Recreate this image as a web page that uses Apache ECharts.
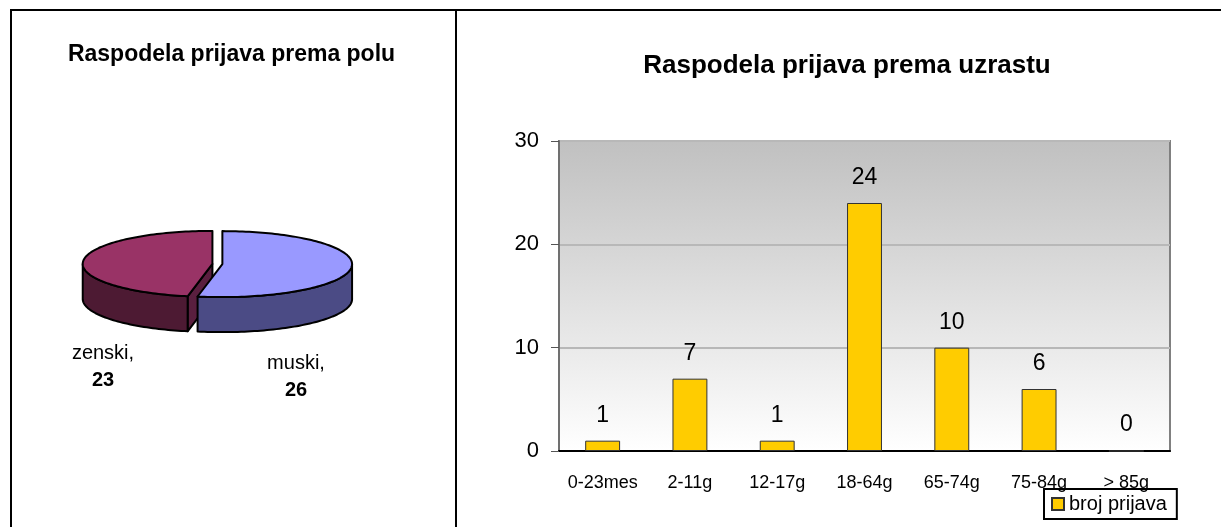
<!DOCTYPE html>
<html><head><meta charset="utf-8">
<script src="https://cdn.jsdelivr.net/npm/echarts@6/dist/echarts.min.js"></script>
<style>html,body{margin:0;padding:0;background:#fff}#c{width:1221px;height:527px}</style>
</head><body><div id="c"></div>
<script>
// ---- data ----
const pieTitle = 'Raspodela prijava prema polu';
const pieNames = ['zenski', 'muski'];
const pieValues = [23, 26];
const barTitle = 'Raspodela prijava prema uzrastu';
const ageCategories = ['0-23mes', '2-11g', '12-17g', '18-64g', '65-74g', '75-84g', '> 85g'];
const ageValues = [1, 7, 1, 24, 10, 6, 0];
const seriesName = 'broj prijava';
const yMin = 0, yMax = 30, yInterval = 10;

// ---- layout / style ----
const FONT = 'Liberation Sans, Arial, sans-serif';
const PIE = {cx: 217.4, cy: 264, a: 129.7, b: 33, depth: 35, explode: 5};
const pieColors = [
  {top: '#993366', side: '#4d1a33', cut: '#5a1f3f'},
  {top: '#9999ff', side: '#4b4b85', cut: '#40407a'}
];
const pieLabelPos = [[103, 353], [296, 363]];
const pieTotal = pieValues.reduce((s, v) => s + v, 0);

function renderPie(params, api) {
  const i = params.dataIndex;
  const val = api.value(0);
  let before = 0;
  for (let k = pieValues.length - 1; k > i; k--) before += pieValues[k];
  const t1 = before / pieTotal * 2 * Math.PI;
  const t2 = (before + val) / pieTotal * 2 * Math.PI;
  const mid = (t1 + t2) / 2;
  const cx = PIE.cx + PIE.explode * Math.sin(mid);
  const cy = PIE.cy - PIE.explode * Math.cos(mid) * PIE.b / PIE.a;
  const D = PIE.depth;
  const pt = (t, dz) => [cx + PIE.a * Math.sin(t), cy - PIE.b * Math.cos(t) + (dz || 0)];
  const arc = (s, e, dz) => {
    const n = Math.max(2, Math.ceil((e - s) / (Math.PI / 120)));
    const out = [];
    for (let j = 0; j <= n; j++) out.push(pt(s + (e - s) * j / n, dz));
    return out;
  };
  const col = pieColors[i];
  const stroke = {stroke: '#000', lineWidth: 2, lineJoin: 'round'};
  const children = [];
  const base = i * 10;
  if (Math.sin(t1) < -1e-6) {
    children.push({type: 'polygon', z2: base + 1, shape: {points: [[cx, cy], pt(t1), pt(t1, D), [cx, cy + D]]},
      style: Object.assign({fill: col.cut}, stroke)});
  }
  if (Math.sin(t2) > 1e-6) {
    children.push({type: 'polygon', z2: base + 1, shape: {points: [[cx, cy], pt(t2), pt(t2, D), [cx, cy + D]]},
      style: Object.assign({fill: col.cut}, stroke)});
  }
  const s = Math.max(t1, Math.PI / 2), e = Math.min(t2, 3 * Math.PI / 2);
  if (e > s) {
    children.push({type: 'polygon', z2: base + 2, shape: {points: arc(s, e, 0).concat(arc(s, e, D).reverse())},
      style: Object.assign({fill: col.side}, stroke)});
  }
  children.push({type: 'polygon', z2: base + 3, shape: {points: [[cx, cy]].concat(arc(t1, t2, 0))},
    style: Object.assign({fill: col.top}, stroke)});
  const lp = pieLabelPos[i];
  children.push({type: 'text', z2: base + 4, x: lp[0], y: lp[1],
    style: {text: pieNames[i] + ',', fill: '#000', font: '20px ' + FONT, align: 'center', verticalAlign: 'middle'}});
  children.push({type: 'text', z2: base + 4, x: lp[0], y: lp[1] + 27,
    style: {text: String(val), fill: '#000', font: 'bold 20px ' + FONT, align: 'center', verticalAlign: 'middle'}});
  return {type: 'group', children: children};
}

const chart = echarts.init(document.getElementById('c'), null, {renderer: 'canvas'});
chart.setOption({
  animation: false,
  backgroundColor: '#fff',
  textStyle: {fontFamily: FONT},
  title: [
    {text: pieTitle, left: 231.5, top: 43, textAlign: 'center', padding: 0,
      textStyle: {fontSize: 23, fontWeight: 'bold', color: '#000', fontFamily: FONT}},
    {text: barTitle, left: 847, top: 53, textAlign: 'center', padding: 0,
      textStyle: {fontSize: 26, fontWeight: 'bold', color: '#000', fontFamily: FONT}}
  ],
  legend: {
    data: [seriesName], left: 1044, top: 489, orient: 'horizontal',
    borderColor: '#000', borderWidth: 2, padding: [5, 10, 5, 7],
    itemWidth: 12, itemHeight: 12, icon: 'rect',
    textStyle: {fontSize: 20, color: '#000', fontFamily: FONT}
  },
  grid: {
    left: 559, right: 51, top: 141, bottom: 76, show: true,
    backgroundColor: {type: 'linear', x: 0, y: 0, x2: 0, y2: 1,
      colorStops: [{offset: 0, color: '#c0c0c0'}, {offset: 1, color: '#ffffff'}]},
    borderColor: '#808080', borderWidth: 2
  },
  xAxis: {
    type: 'category', data: ageCategories,
    axisLine: {lineStyle: {color: '#000', width: 2}},
    axisTick: {inside: true, length: 8, lineStyle: {color: '#000', width: 2}},
    axisLabel: {fontSize: 18, color: '#000', margin: 23, interval: 0, fontFamily: FONT}
  },
  yAxis: {
    type: 'value', min: yMin, max: yMax, interval: yInterval,
    axisLine: {show: true, lineStyle: {color: '#707070', width: 2}},
    axisTick: {show: true, length: 8, lineStyle: {color: '#555', width: 1}},
    axisLabel: {fontSize: 22, color: '#000', margin: 20, fontFamily: FONT},
    splitLine: {lineStyle: {color: '#b8b8b8', width: 2}}
  },
  graphic: [
    {type: 'line', shape: {x1: 10, y1: 10, x2: 1221, y2: 10}, style: {stroke: '#000', lineWidth: 2}},
    {type: 'line', shape: {x1: 11, y1: 10, x2: 11, y2: 527}, style: {stroke: '#000', lineWidth: 2}},
    {type: 'line', shape: {x1: 456, y1: 10, x2: 456, y2: 527}, style: {stroke: '#000', lineWidth: 2}}
  ],
  series: [
    {
      type: 'custom', name: 'pol', coordinateSystem: 'none',
      data: pieValues.map((v, k) => ({name: pieNames[k], value: [v]})),
      renderItem: renderPie
    },
    {
      type: 'bar', name: seriesName, data: ageValues, barWidth: '40%',
      itemStyle: {color: '#ffcc00', borderColor: '#333', borderWidth: 1},
      label: {show: true, position: 'top', distance: 14, fontSize: 23, color: '#000', fontFamily: FONT}
    }
  ]
});
</script>
</body></html>
